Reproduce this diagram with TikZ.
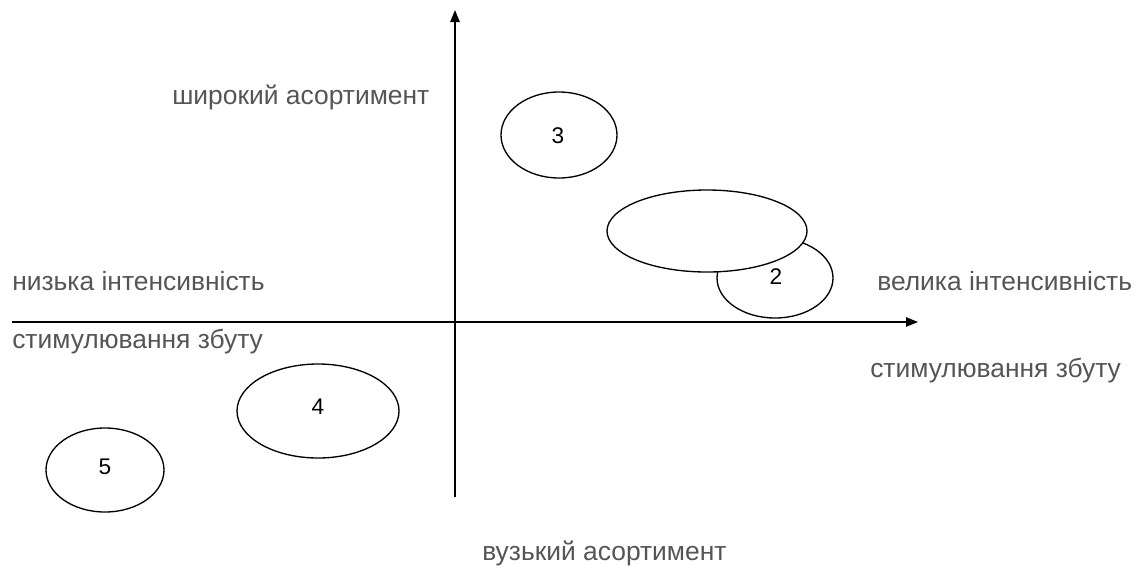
\documentclass[tikz,border=0pt]{standalone}
\usepackage{fontspec}
\setmainfont{Liberation Sans}
\usetikzlibrary{arrows.meta}
\definecolor{lbl}{HTML}{555555}
\begin{document}
\begin{tikzpicture}[x=0.75pt,y=-0.75pt,
  lab/.style={text=lbl,font=\fontsize{19.8}{22}\selectfont,inner sep=0pt,anchor=west},
  num/.style={font=\fontsize{17}{19}\selectfont,inner sep=0pt},
  axis/.style={line width=1.1pt,-{Triangle[length=9pt,width=7pt]}},
  oval/.style={draw,line width=1pt}]
\useasboundingbox (0,0) rectangle (1145,569);
\coordinate (hs) at (12,322);
\coordinate (he) at (918,322);
\coordinate (vs) at (455,497);
\coordinate (ve) at (455,10);
\draw[axis] (hs) -- (he);
\draw[axis] (vs) -- (ve);
\draw[oval] (559,135) ellipse [x radius=58, y radius=43];
\node[num] (n3) at (558,136) {3};
\draw[oval] (775,278) ellipse [x radius=58, y radius=40];
\draw[oval,fill=white] (707,231) ellipse [x radius=100, y radius=41];
\node[num] (n2) at (776,277) {2};
\draw[oval] (318,411) ellipse [x radius=81, y radius=47];
\node[num] (n4) at (318,407) {4};
\draw[oval] (105,470) ellipse [x radius=59, y radius=42];
\node[num] (n5) at (105,467) {5};
\node[lab] (t1) at (172,97) {широкий асортимент};
\node[lab] (t2) at (12,281) {низька інтенсивність};
\node[lab] (t3) at (12,342) {стимулювання збуту};
\node[lab] (t4) at (877,281) {велика інтенсивність};
\node[lab] (t5) at (870,371) {стимулювання збуту};
\node[lab] (t6) at (482,553) {вузький асортимент};
\end{tikzpicture}
\end{document}
